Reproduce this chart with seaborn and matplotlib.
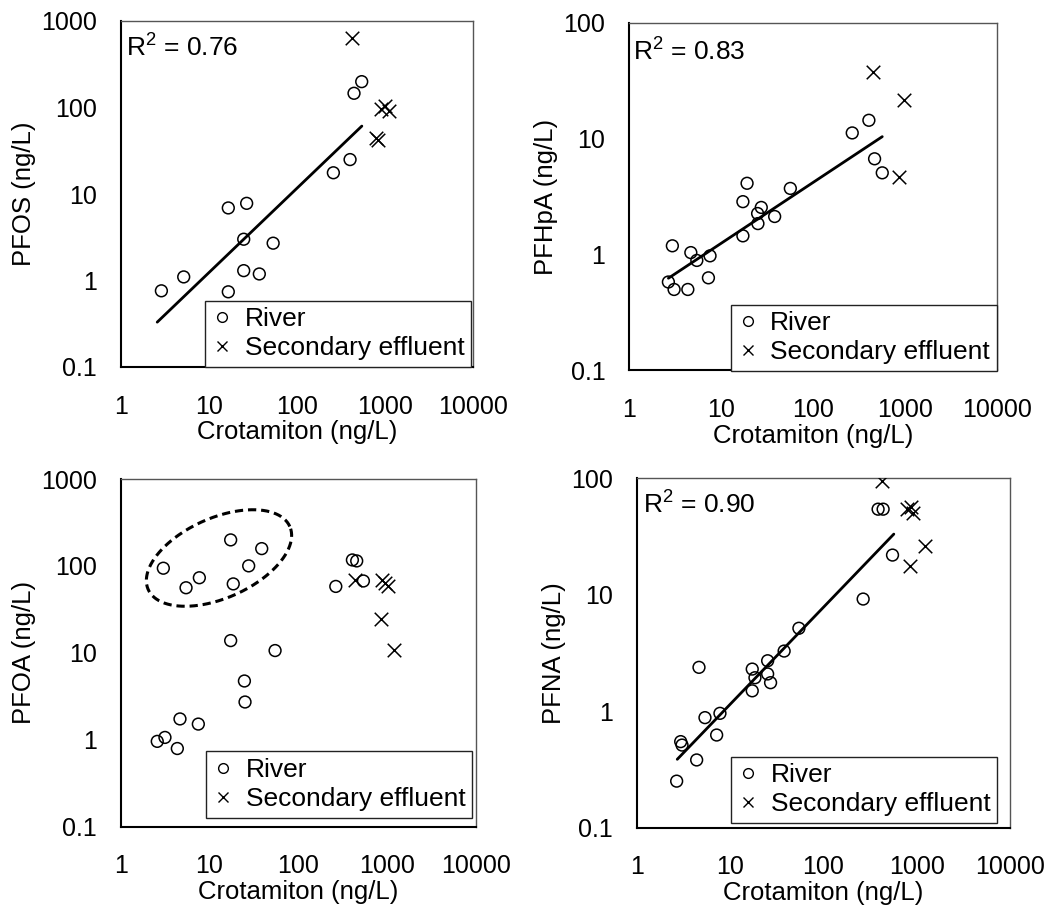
import numpy as np
import pandas as pd
import seaborn as sns
import matplotlib.pyplot as plt
from matplotlib.lines import Line2D

# values (ng/L)
x_ticks = [1, 10, 100, 1000, 10000]
x_tick_labels = ["1", "10", "100", "1000", "10000"]
legend_labels = ["River", "Secondary effluent"]

# PFOS
pfos_river_x = [2.9, 5.2, 16.7, 16.7, 27, 25, 25, 37.6, 54, 261, 404, 448, 548]
pfos_river_y = [0.76, 1.1, 0.74, 6.9, 7.8, 3.0, 1.3, 1.19, 2.7, 17.6, 25, 146, 199]
pfos_eff_x = [428, 900, 1010, 1130, 800, 830]
pfos_eff_y = [630, 95, 105, 90, 44, 42]
pfos_fit_x = [2.6, 550]
pfos_fit_y = [0.33, 61]

# PFHpA
pfhpa_river_x = [2.68, 3.09, 2.96, 4.36, 4.7, 5.46, 7.6, 7.3, 17.3, 17.3, 19.2,
                 25, 27.4, 25.2, 38.3, 56.7, 267, 405, 467, 566]
pfhpa_river_y = [0.58, 0.50, 1.19, 0.50, 1.04, 0.89, 0.975, 0.63, 1.45, 2.86, 4.12,
                 2.26, 2.55, 1.85, 2.13, 3.72, 11.2, 14.4, 6.7, 5.07]
pfhpa_eff_x = [447, 973, 859]
pfhpa_eff_y = [37.6, 21.7, 4.65]
pfhpa_fit_x = [2.68, 566]
pfhpa_fit_y = [0.625, 10.4]

# PFOA
pfoa_river_x = [3.02, 5.44, 7.68, 17.3, 18.5, 27.6, 38.7, 17.3, 54.7, 24.7, 25.1,
                4.65, 7.48, 2.58, 3.15, 4.34, 264, 406, 454, 540]
pfoa_river_y = [94, 56, 73, 199, 62, 100, 158, 13.8, 10.6, 4.73, 2.71,
                1.73, 1.51, 0.955, 1.06, 0.79, 58, 117, 114, 67]
pfoa_eff_x = [435, 869, 947, 1032, 853, 1196]
pfoa_eff_y = [69, 68, 64, 59, 24.4, 10.8]

# PFNA
pfna_river_x = [2.68, 2.96, 3.06, 4.39, 5.39, 7.8, 7.19, 4.65, 17.3, 17.3, 18.5,
                25.3, 25.3, 27.2, 38, 54.7, 267, 551, 386, 437]
pfna_river_y = [0.25, 0.546, 0.51, 0.38, 0.877, 0.955, 0.622, 2.37, 1.49, 2.29, 1.93,
                2.7, 2.08, 1.75, 3.27, 5.13, 9.14, 21.8, 54, 54]
pfna_eff_x = [420, 789, 880, 916, 845, 1230]
pfna_eff_y = [95, 54, 56, 50, 17.4, 26]
pfna_fit_x = [2.72, 569]
pfna_fit_y = [0.385, 33]

sns.set_theme(style="white")
plt.rcParams["font.family"] = ["Liberation Sans", "DejaVu Sans"]
plt.rcParams["text.color"] = "black"
plt.rcParams["axes.labelcolor"] = "black"
plt.rcParams["mathtext.fontset"] = "custom"
plt.rcParams["mathtext.rm"] = "Liberation Sans"
plt.rcParams["mathtext.it"] = "Liberation Sans"

W, H = 1054, 913
fig = plt.figure(figsize=(W / 100, H / 100), dpi=100)


def add_ax(l, t, r, b):
    return fig.add_axes([l / W, 1 - b / H, (r - l) / W, (b - t) / H])


def panel(ax, rx, ry, ex, ey, ylab, ymax, fit_x=None, fit_y=None,
          r2=None, r2_xy=None, leg_rb=None):
    river = pd.DataFrame({"crot": rx, "conc": ry})
    eff = pd.DataFrame({"crot": ex, "conc": ey})
    sns.scatterplot(data=river, x="crot", y="conc", marker="o", s=72,
                    facecolor="none", edgecolor="black", linewidth=1.1,
                    ax=ax, legend=False, zorder=3)
    sns.scatterplot(data=eff, x="crot", y="conc", marker="x", s=95,
                    color="black", linewidth=1.1, ax=ax, legend=False, zorder=3)
    if fit_x is not None:
        sns.lineplot(x=fit_x, y=fit_y, color="black", linewidth=2, ax=ax,
                     legend=False, zorder=2)
    ax.set_xscale("log")
    ax.set_yscale("log")
    ax.set_xlim(1, 10000)
    ax.set_ylim(0.1, ymax)
    yt = [t for t in [0.1, 1, 10, 100, 1000] if t <= ymax]
    ax.set_xticks(x_ticks)
    ax.set_xticklabels(x_tick_labels)
    ax.set_yticks(yt)
    ax.set_yticklabels(["0.1" if t < 1 else str(int(t)) for t in yt])
    ax.minorticks_off()
    ax.tick_params(axis="both", direction="in", length=6, width=1,
                   color="#555555", labelsize=18, labelcolor="black")
    ax.tick_params(axis="x", pad=20)
    ax.tick_params(axis="y", pad=17)
    ax.set_xlabel("Crotamiton (ng/L)", fontsize=18.5, labelpad=1)
    ax.set_ylabel(ylab, fontsize=18.5, labelpad=4)
    for s in ["left", "bottom"]:
        ax.spines[s].set_color("black")
        ax.spines[s].set_linewidth(1.5)
    for s in ["top", "right"]:
        ax.spines[s].set_color("#555555")
        ax.spines[s].set_linewidth(1.0)
    if r2 is not None:
        ax.text(r2_xy[0] / W, 1 - r2_xy[1] / H, r2, transform=fig.transFigure,
                fontsize=19, ha="left", va="center")
    handles = [Line2D([], [], marker="o", ls="none", mfc="none", mec="black",
                      ms=7, mew=1),
               Line2D([], [], marker="x", ls="none", color="black", ms=7, mew=1)]
    leg = ax.legend(handles, legend_labels, loc="lower right",
                    bbox_to_anchor=(leg_rb[0] / W, 1 - leg_rb[1] / H),
                    bbox_transform=fig.transFigure, borderaxespad=0,
                    fancybox=False, framealpha=1, edgecolor="#222222",
                    fontsize=19, handlelength=0.8, handletextpad=0.45,
                    borderpad=0.25, labelspacing=0.2)
    leg.get_frame().set_linewidth(1.0)


ax1 = add_ax(120.7, 21, 472.7, 367)
panel(ax1, pfos_river_x, pfos_river_y, pfos_eff_x, pfos_eff_y, "PFOS (ng/L)", 1000,
      pfos_fit_x, pfos_fit_y, "R$^2$ = 0.76", (126, 48), (471, 367))

ax2 = add_ax(629, 22.7, 997, 370.5)
panel(ax2, pfhpa_river_x, pfhpa_river_y, pfhpa_eff_x, pfhpa_eff_y, "PFHpA (ng/L)", 100,
      pfhpa_fit_x, pfhpa_fit_y, "R$^2$ = 0.83", (633, 52), (996.7, 371))

ax3 = add_ax(120.7, 479, 476, 826.5)
panel(ax3, pfoa_river_x, pfoa_river_y, pfoa_eff_x, pfoa_eff_y, "PFOA (ng/L)", 1000,
      leg_rb=(472, 817.7))

ax4 = add_ax(636.7, 478, 1010, 827.5)
panel(ax4, pfna_river_x, pfna_river_y, pfna_eff_x, pfna_eff_y, "PFNA (ng/L)", 100,
      pfna_fit_x, pfna_fit_y, "R$^2$ = 0.90", (643, 505), (997, 823))

# dashed ellipse around the upstream cluster in the PFOA panel
aw, ah = 476 - 120.7, 826.5 - 479
cx, cy = 219 - 120.7, 826.5 - 558
a, b, th = 77.5, 40, np.deg2rad(24)
t = np.linspace(0, 2 * np.pi, 300)
ex_ = cx + a * np.cos(t) * np.cos(th) - b * np.sin(t) * np.sin(th)
ey_ = cy + a * np.cos(t) * np.sin(th) + b * np.sin(t) * np.cos(th)
ax3.plot(ex_ / aw, ey_ / ah, transform=ax3.transAxes, color="black",
         linewidth=2.2, linestyle=(0, (2.7, 1.6)))

fig.savefig("out.png", dpi=100)
